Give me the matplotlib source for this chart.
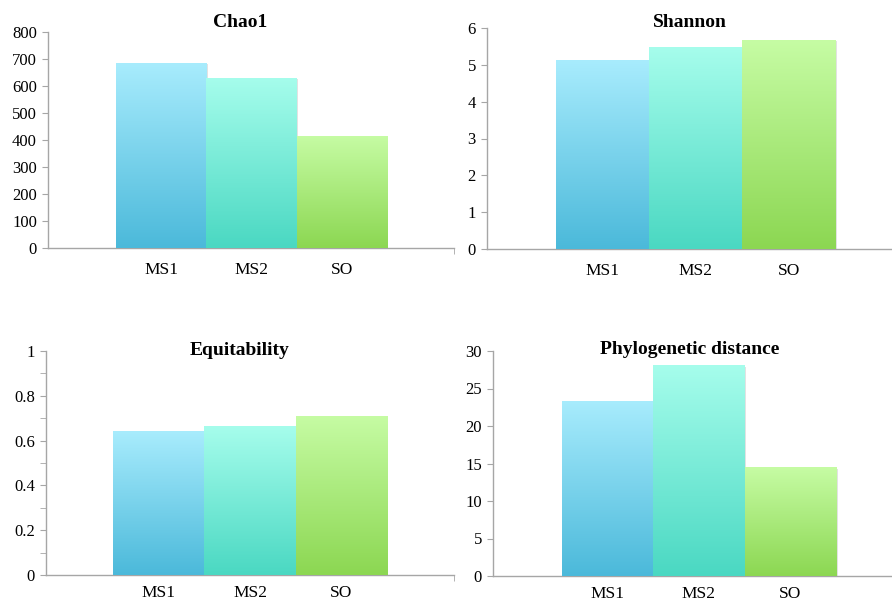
import numpy as np
import matplotlib
matplotlib.use('Agg')
import matplotlib.pyplot as plt
from matplotlib import colors
from matplotlib.ticker import MultipleLocator

categories = ['MS1', 'MS2', 'SO']
chao1 = [685, 630, 415]
shannon = [5.13, 5.48, 5.67]
equitability = [0.641, 0.664, 0.71]
phylo_distance = [23.4, 28.1, 14.5]

titles = ['Chao1', 'Shannon', 'Equitability', 'Phylogenetic distance']

# (top colour, bottom colour) for each bar
bar_gradients = [('#a8ecfd', '#4bb9da'),
                 ('#a6fdec', '#4ad8c2'),
                 ('#c6fca4', '#8cd752')]

plt.rcParams['font.family'] = ['Liberation Serif', 'DejaVu Serif']
axis_grey = '#a6a6a6'

W, H = 892, 602


def px_axes(left, right, top, bottom):
    return [left / W, 1 - bottom / H, (right - left) / W, (bottom - top) / H]


def draw_panel(ax, values, ymax, major, minor, xlim, fmt, xpad):
    x = np.arange(len(values))
    bars = ax.bar(x, values, width=1.0, color='none', edgecolor='none', zorder=2)
    for bar, (top_c, bot_c) in zip(bars, bar_gradients):
        x0, w = bar.get_x(), bar.get_width()
        h = bar.get_height()
        # faint drop shadow
        ax.add_patch(plt.Rectangle((x0 + 0.015, -ymax * 0.006), w, h,
                                   facecolor='#d0d0d0', edgecolor='none', alpha=0.6, zorder=1))
        cmap = colors.LinearSegmentedColormap.from_list('g', [bot_c, top_c])
        grad = np.linspace(0, 1, 256).reshape(-1, 1)
        im = ax.imshow(grad, cmap=cmap, origin='lower', aspect='auto',
                       extent=(x0, x0 + w, 0, h), zorder=3)
        im.set_clip_path(bar)
    ax.set_xlim(*xlim)
    ax.set_ylim(0, ymax)
    ax.yaxis.set_major_locator(MultipleLocator(major))
    if minor:
        ax.yaxis.set_minor_locator(MultipleLocator(minor))
    ax.set_yticks(ax.get_yticks())
    ax.set_yticklabels([fmt(v) for v in ax.get_yticks()])
    ax.set_ylim(0, ymax)
    ax.set_xticks(x)
    ax.set_xticklabels(categories, fontsize=12.5)
    ax.tick_params(axis='x', length=0, pad=xpad)
    ax.set_xticks([xlim[1]], minor=True)
    ax.tick_params(axis='x', which='minor', length=4, color=axis_grey, direction='out')
    ax.tick_params(axis='y', which='both', length=4, color=axis_grey, direction='out',
                   labelsize=12, pad=4)
    for s in ['top', 'right']:
        ax.spines[s].set_visible(False)
    for s in ['left', 'bottom']:
        ax.spines[s].set_color(axis_grey)
        ax.spines[s].set_linewidth(1.0)
    ax.spines['left'].set_bounds(0, ymax)


fig = plt.figure(figsize=(W / 100, H / 100), dpi=100)

ax1 = fig.add_axes(px_axes(48, 454, 32, 248))
ax2 = fig.add_axes(px_axes(487, 892, 28, 249))
ax3 = fig.add_axes(px_axes(46, 454, 351, 575))
ax4 = fig.add_axes(px_axes(493, 892, 351, 576))

draw_panel(ax1, chao1, 800, 100, None, (-1.25, 3.24), lambda v: f'{v:.0f}', 10)
draw_panel(ax2, shannon, 6, 1, None, (-1.24, 3.11), lambda v: f'{v:.0f}', 10)
draw_panel(ax3, equitability, 1, 0.2, 0.1, (-1.24, 3.24),
           lambda v: f'{v:.1f}'.rstrip('0').rstrip('.') if v else '0', 7)
draw_panel(ax4, phylo_distance, 30, 5, None, (-1.25, 3.11), lambda v: f'{v:.0f}', 7)

title_pos = [(240, 27), (690, 27), (240, 355), (690, 354)]
for t, (tx, ty) in zip(titles, title_pos):
    fig.text(tx / W, 1 - ty / H, t, ha='center', va='baseline',
             fontsize=14, fontweight='bold')

fig.savefig('out.png', dpi=100)
plt.close()
